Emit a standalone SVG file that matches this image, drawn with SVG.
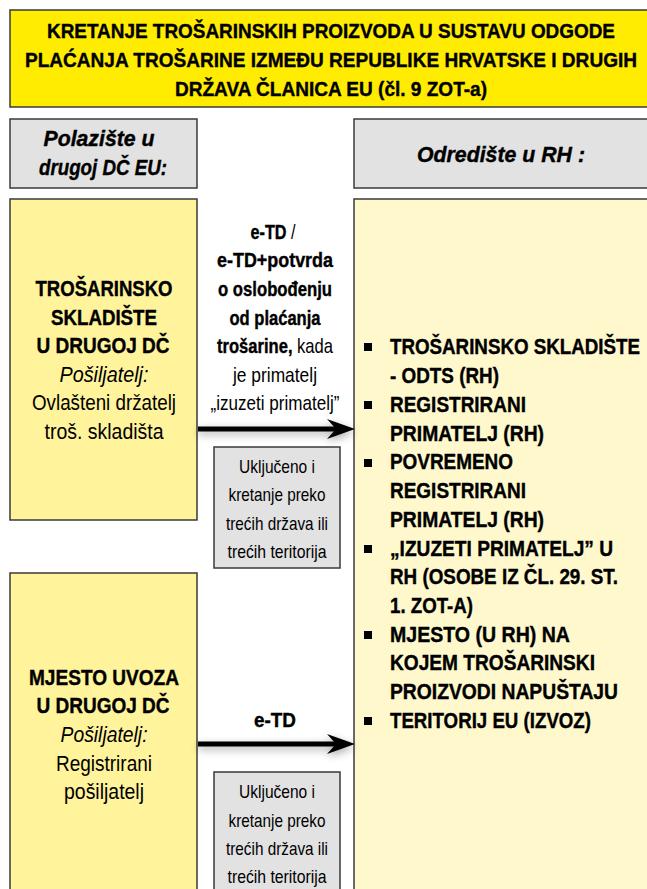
<svg xmlns="http://www.w3.org/2000/svg" width="647" height="889" viewBox="0 0 647 889">
<defs>
<style>
.t{font-family:"Liberation Sans",Arial,sans-serif;fill:#000;}
.b,.t tspan[font-weight="bold"]{font-weight:bold;stroke:#000;stroke-width:0.4;}
.i{font-style:italic;}
.c{text-anchor:middle;}
.box{stroke:#3a3a3a;stroke-width:1.5;}
.title{fill:#FFEC00;}
.hdr{fill:#E2E2E2;}
.src{fill:#FFF39C;}
.dst{fill:#FFF8CD;}
.note{fill:#E2E2E2;}
.shaft{stroke:#000;stroke-width:5;fill:none;}
</style>
<filter id="sh" x="-20%" y="-200%" width="140%" height="500%">
<feGaussianBlur in="SourceAlpha" stdDeviation="4"/>
<feOffset dx="0" dy="3" result="o"/>
<feComponentTransfer><feFuncA type="linear" slope="0.35"/></feComponentTransfer>
<feMerge><feMergeNode/><feMergeNode in="SourceGraphic"/></feMerge>
</filter>
</defs>
<rect width="647" height="889" fill="#fff"/>

<g id="title">
<rect class="box title" x="10" y="10" width="650" height="97"/>
<text class="t b c" font-size="21" x="331" y="38" textLength="568" lengthAdjust="spacingAndGlyphs">KRETANJE TROŠARINSKIH PROIZVODA U SUSTAVU ODGODE</text>
<text class="t b c" font-size="21" x="331" y="67" textLength="612" lengthAdjust="spacingAndGlyphs">PLAĆANJA TROŠARINE IZMEĐU REPUBLIKE HRVATSKE I DRUGIH</text>
<text class="t b c" font-size="21" x="331" y="96" textLength="312" lengthAdjust="spacingAndGlyphs">DRŽAVA ČLANICA EU (čl. 9 ZOT-a)</text>
</g>

<g id="hdr-left">
<rect class="box hdr" x="10" y="119" width="187" height="69"/>
<text class="t b i c" font-size="22" x="99" y="146" textLength="111" lengthAdjust="spacingAndGlyphs">Polazište u</text>
<text class="t b i c" font-size="22" x="103" y="175" textLength="128" lengthAdjust="spacingAndGlyphs">drugoj DČ EU:</text>
</g>

<g id="hdr-right">
<rect class="box hdr" x="354" y="119" width="310" height="69"/>
<text class="t b i c" font-size="22" x="501" y="162" textLength="168" lengthAdjust="spacingAndGlyphs">Odredište u RH :</text>
</g>

<g id="src1">
<rect class="box src" x="10" y="199" width="187" height="321"/>
<text class="t b c" font-size="22" x="104" y="296" textLength="137" lengthAdjust="spacingAndGlyphs">TROŠARINSKO</text>
<text class="t b c" font-size="22" x="104" y="325" textLength="106" lengthAdjust="spacingAndGlyphs">SKLADIŠTE</text>
<text class="t b c" font-size="22" x="103" y="353" textLength="133" lengthAdjust="spacingAndGlyphs">U DRUGOJ DČ</text>
<text class="t i c" font-size="22" x="104" y="382" textLength="89" lengthAdjust="spacingAndGlyphs">Pošiljatelj:</text>
<text class="t c" font-size="22" x="104" y="410" textLength="144" lengthAdjust="spacingAndGlyphs">Ovlašteni držatelj</text>
<text class="t c" font-size="22" x="104" y="439" textLength="119" lengthAdjust="spacingAndGlyphs">troš. skladišta</text>
</g>

<g id="src2">
<rect class="box src" x="10" y="573" width="187" height="330"/>
<text class="t b c" font-size="22" x="104" y="685" textLength="150" lengthAdjust="spacingAndGlyphs">MJESTO UVOZA</text>
<text class="t b c" font-size="22" x="103" y="713" textLength="133" lengthAdjust="spacingAndGlyphs">U DRUGOJ DČ</text>
<text class="t i c" font-size="22" x="104" y="742" textLength="87" lengthAdjust="spacingAndGlyphs">Pošiljatelj:</text>
<text class="t c" font-size="22" x="104" y="771" textLength="96" lengthAdjust="spacingAndGlyphs">Registrirani</text>
<text class="t c" font-size="22" x="104" y="799" textLength="80" lengthAdjust="spacingAndGlyphs">pošiljatelj</text>
</g>

<g id="dst">
<rect class="box dst" x="354" y="199" width="310" height="710"/>
<g fill="#000">
<rect x="364" y="343" width="8" height="8"/>
<rect x="364" y="401" width="8" height="8"/>
<rect x="364" y="459" width="8" height="8"/>
<rect x="364" y="545" width="8" height="8"/>
<rect x="364" y="631" width="8" height="8"/>
<rect x="364" y="717" width="8" height="8"/>
</g>
<text class="t b" font-size="22" x="390" y="354" textLength="250" lengthAdjust="spacingAndGlyphs">TROŠARINSKO SKLADIŠTE</text>
<text class="t b" font-size="22" x="390" y="383" textLength="109" lengthAdjust="spacingAndGlyphs">- ODTS (RH)</text>
<text class="t b" font-size="22" x="390" y="412" textLength="136" lengthAdjust="spacingAndGlyphs">REGISTRIRANI</text>
<text class="t b" font-size="22" x="390" y="441" textLength="154" lengthAdjust="spacingAndGlyphs">PRIMATELJ (RH)</text>
<text class="t b" font-size="22" x="390" y="469" textLength="123" lengthAdjust="spacingAndGlyphs">POVREMENO</text>
<text class="t b" font-size="22" x="390" y="498" textLength="136" lengthAdjust="spacingAndGlyphs">REGISTRIRANI</text>
<text class="t b" font-size="22" x="390" y="527" textLength="154" lengthAdjust="spacingAndGlyphs">PRIMATELJ (RH)</text>
<text class="t b" font-size="22" x="390" y="556" textLength="223" lengthAdjust="spacingAndGlyphs">„IZUZETI PRIMATELJ” U</text>
<text class="t b" font-size="22" x="390" y="584" textLength="228" lengthAdjust="spacingAndGlyphs">RH (OSOBE IZ ČL. 29. ST.</text>
<text class="t b" font-size="22" x="390" y="613" textLength="83" lengthAdjust="spacingAndGlyphs">1. ZOT-A)</text>
<text class="t b" font-size="22" x="390" y="642" textLength="180" lengthAdjust="spacingAndGlyphs">MJESTO (U RH) NA</text>
<text class="t b" font-size="22" x="390" y="670" textLength="205" lengthAdjust="spacingAndGlyphs">KOJEM TROŠARINSKI</text>
<text class="t b" font-size="22" x="390" y="699" textLength="228" lengthAdjust="spacingAndGlyphs">PROIZVODI NAPUŠTAJU</text>
<text class="t b" font-size="22" x="390" y="728" textLength="201" lengthAdjust="spacingAndGlyphs">TERITORIJ EU (IZVOZ)</text>
</g>

<g id="note1">
<rect class="box note" x="214" y="447" width="126" height="121"/>
<text class="t c" font-size="19" x="277" y="473" textLength="76" lengthAdjust="spacingAndGlyphs">Uključeno i</text>
<text class="t c" font-size="19" x="277" y="501" textLength="97" lengthAdjust="spacingAndGlyphs">kretanje preko</text>
<text class="t c" font-size="19" x="277" y="530" textLength="102" lengthAdjust="spacingAndGlyphs">trećih država ili</text>
<text class="t c" font-size="19" x="277" y="558" textLength="99" lengthAdjust="spacingAndGlyphs">trećih teritorija</text>
</g>

<g id="note2">
<rect class="box note" x="214" y="772" width="126" height="130"/>
<text class="t c" font-size="19" x="277" y="798" textLength="76" lengthAdjust="spacingAndGlyphs">Uključeno i</text>
<text class="t c" font-size="19" x="277" y="827" textLength="97" lengthAdjust="spacingAndGlyphs">kretanje preko</text>
<text class="t c" font-size="19" x="277" y="855" textLength="102" lengthAdjust="spacingAndGlyphs">trećih država ili</text>
<text class="t c" font-size="19" x="277" y="883" textLength="99" lengthAdjust="spacingAndGlyphs">trećih teritorija</text>
</g>

<g id="connectors">
<g filter="url(#sh)">
<line class="shaft" x1="198" y1="429" x2="338" y2="429"/>
<path d="M355,429 L327,419 L336,429 L327,439 Z" fill="#000"/>
</g>
<g filter="url(#sh)">
<line class="shaft" x1="198" y1="744" x2="338" y2="744"/>
<path d="M355,744 L327,734 L336,744 L327,754 Z" fill="#000"/>
</g>
<g id="label1">
<text class="t c" font-size="21" x="273" y="239" textLength="45" lengthAdjust="spacingAndGlyphs"><tspan font-weight="bold">e-TD</tspan> /</text>
<text class="t b c" font-size="21" x="275" y="267" textLength="116" lengthAdjust="spacingAndGlyphs">e-TD+potvrda</text>
<text class="t b c" font-size="21" x="275" y="296" textLength="114" lengthAdjust="spacingAndGlyphs">o oslobođenju</text>
<text class="t b c" font-size="21" x="275" y="325" textLength="91" lengthAdjust="spacingAndGlyphs">od plaćanja</text>
<text class="t c" font-size="21" x="275" y="353" textLength="116" lengthAdjust="spacingAndGlyphs"><tspan font-weight="bold">trošarine,</tspan> kada</text>
<text class="t c" font-size="21" x="275" y="382" textLength="84" lengthAdjust="spacingAndGlyphs">je primatelj</text>
<text class="t c" font-size="21" x="275" y="410" textLength="129" lengthAdjust="spacingAndGlyphs">„izuzeti primatelj”</text>
</g>
<text id="label2" class="t b c" font-size="21" x="275" y="727" textLength="42" lengthAdjust="spacingAndGlyphs">e-TD</text>
</g>
</svg>
